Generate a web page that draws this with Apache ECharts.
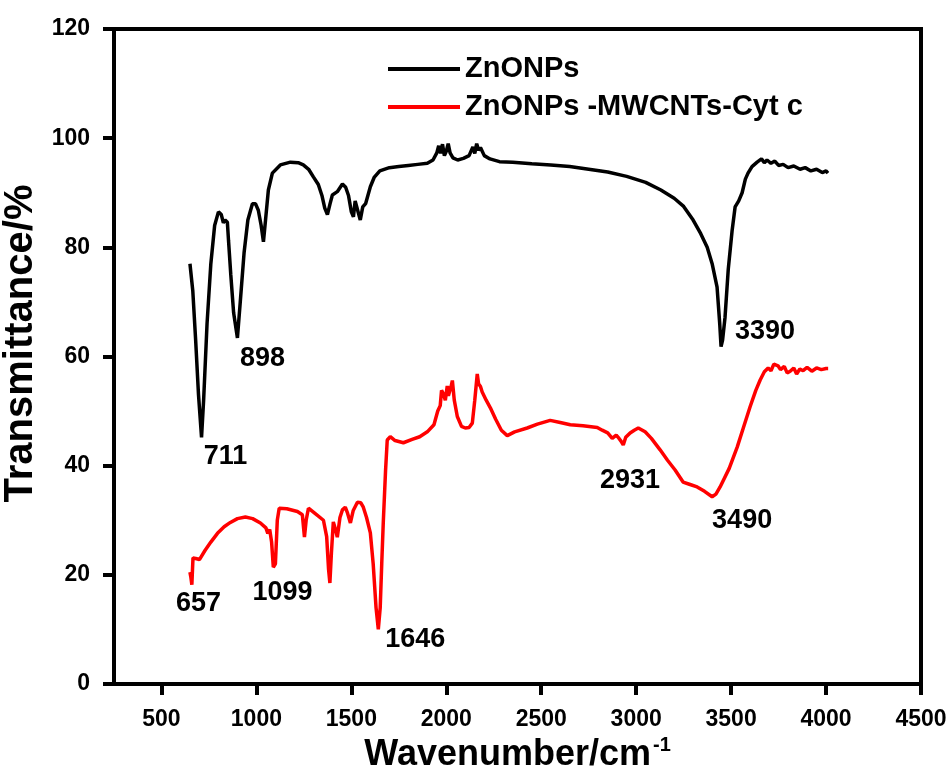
<!DOCTYPE html>
<html>
<head>
<meta charset="utf-8">
<script src="https://cdn.jsdelivr.net/npm/echarts@6/dist/echarts.min.js"></script>
<style>
  html, body { margin: 0; padding: 0; background: #fff; }
  #chart { width: 952px; height: 772px; }
</style>
</head>
<body>
<div id="chart"></div>
<script>
// ZnONPs (black) — wavenumber / transmittance
const znoX = [650, 665, 680, 695, 711, 722, 740, 760, 780, 800, 815, 826, 835, 847, 853, 865, 880, 900, 915, 935,
  955, 979, 995, 1010, 1025, 1037, 1048, 1063, 1084, 1126, 1179, 1220, 1247, 1275, 1300, 1326, 1345, 1360, 1374, 1388,
  1400, 1426, 1453, 1470, 1485, 1500, 1511, 1520, 1530, 1547, 1560, 1575, 1600, 1620, 1650, 1700, 1750, 1800, 1850, 1900,
  1930, 1950, 1960, 1970, 1980, 1990, 2000, 2010, 2020, 2035, 2060, 2090, 2120, 2140, 2150, 2160, 2170, 2180, 2200, 2230,
  2280, 2350, 2450, 2550, 2650, 2750, 2850, 2950, 3050, 3130, 3200, 3250, 3300, 3340, 3374, 3400, 3426, 3440, 3447, 3455,
  3468, 3485, 3505, 3521, 3540, 3558, 3575, 3589, 3610, 3637, 3660, 3675, 3689, 3710, 3730, 3750, 3774, 3800, 3830, 3863,
  3890, 3920, 3950, 3980, 4000, 4010];
const znoY = [77.0, 72, 63, 53, 45.2, 52, 66, 77, 84, 86.5, 86, 84.5, 85, 84.6, 81.3, 75, 68, 63.4, 70, 79,
  85, 88, 88, 86.8, 84, 81, 85, 90.5, 93.6, 95.1, 95.6, 95.5, 95.1, 94.3, 92.9, 91.5, 89.5, 87.2, 86, 88,
  89.6, 90.2, 91.6, 91, 89.5, 86.5, 85.6, 88.5, 88.2, 85, 87.4, 88, 91.1, 92.8, 94, 94.6, 94.8, 95.0, 95.2, 95.4,
  96, 97.3, 98.6, 97.2, 98.9, 96.8, 97.6, 99, 97.3, 96.4, 96, 96.3, 96.8, 98.4, 97.2, 99, 97.8, 98.3, 96.8, 96.2,
  95.7, 95.6, 95.3, 95.1, 94.8, 94.3, 93.8, 93.0, 91.9, 90.5, 89.0, 87.5, 85, 82.5, 80, 77, 72.7, 66, 61.8, 63,
  67.2, 76, 83, 87.4, 88.5, 90, 92.5, 93.6, 94.8, 95.6, 96.2, 95.5, 96, 95.4, 95.8, 95.0, 95.2, 94.6, 94.9, 94.3,
  94.6, 94.0, 94.3, 93.7, 94.0, 93.6];

// ZnONPs -MWCNTs-Cyt c (red)
const compX = [650, 655, 660, 663, 666, 680, 700, 730, 760, 795, 830, 863, 900, 942, 980, 1021, 1050, 1060, 1070, 1080,
  1089, 1100, 1110, 1120, 1160, 1216, 1242, 1253, 1262, 1274, 1310, 1353, 1370, 1380, 1387, 1395, 1405, 1415, 1426, 1440,
  1453, 1468, 1480, 1495, 1510, 1532, 1550, 1563, 1580, 1600, 1615, 1630, 1642, 1652, 1660, 1668, 1680, 1689, 1705, 1730,
  1774, 1820, 1860, 1900, 1935, 1955, 1968, 1975, 1984, 1995, 2005, 2011, 2025, 2032, 2042, 2058, 2080, 2100, 2120, 2137,
  2150, 2163, 2170, 2180, 2189, 2210, 2232, 2260, 2290, 2321, 2360, 2426, 2480, 2547, 2600, 2653, 2720, 2795, 2821, 2850,
  2874, 2895, 2905, 2920, 2932, 2945, 2968, 2990, 3011, 3047, 3080, 3126, 3165, 3205, 3247, 3280, 3321, 3360, 3400, 3420,
  3442, 3490, 3532, 3565, 3600, 3630, 3653, 3675, 3695, 3710, 3725, 3747, 3760, 3780, 3795, 3811, 3830, 3845, 3862, 3879,
  3900, 3925, 3950, 3975, 4000, 4011];
const compY = [20.5, 19.5, 18.2, 18.5, 23.1, 23, 22.8, 24.5, 26, 27.6, 28.8, 29.6, 30.3, 30.6, 30.3, 29.5, 28.6, 27.6, 28.3, 26,
  21.4, 22, 30, 32.2, 32.1, 31.6, 31, 26.9, 30, 32.2, 31.2, 30, 27, 21, 18.5, 24, 29.7, 28.5, 26.9, 30.5,
  31.9, 32.4, 31.3, 29.5, 31.8, 33.3, 33.2, 32.4, 30.5, 27.7, 22, 14, 10, 14, 22, 29.5, 39, 44.7, 45.3, 44.6,
  44.2, 44.8, 45.3, 46.2, 47.5, 50, 51, 53.8, 53.2, 52, 54.6, 52.8, 54.5, 55.6, 52, 49, 47.2, 46.9, 47, 47.8,
  52, 56.8, 55, 54.5, 53.5, 52, 50.6, 48.5, 46.5, 45.5, 46.2, 46.9, 47.6, 48.3, 47.9, 47.5, 47.3, 47, 46.5, 46,
  45, 45.6, 45.2, 44.5, 43.8, 45.2, 46, 46.5, 46.9, 46.2, 45, 42.9, 41, 39.2, 37, 36.6, 36.1, 35.3, 34.3, 34.8,
  36.1, 39.5, 43.4, 47, 50.8, 53.8, 55.7, 57.2, 57.9, 57.4, 58.6, 58.3, 57.6, 58.2, 57, 57.3, 57.9, 56.8, 57.7, 57.4,
  58, 57.3, 57.9, 57.6, 57.8, 57.8];

// peak annotations: [x, y, text] (label centre in data units)
const peakLabels = [
  [837, 41.6, '711'], [1032, 59.7, '898'], [3679, 64.5, '3390'],
  [695, 14.8, '657'], [1137, 16.7, '1099'], [1837, 8.1, '1646'],
  [2968, 37.2, '2931'], [3558, 29.9, '3490']
];

const xTicks = [500, 1000, 1500, 2000, 2500, 3000, 3500, 4000, 4500];
const seriesNames = ['ZnONPs', 'ZnONPs -MWCNTs-Cyt c'];

const pairs = (xs, ys) => xs.map((x, i) => [x, ys[i]]);
const FONT = '"Liberation Sans", Arial, sans-serif';

const myChart = echarts.init(document.getElementById('chart'));
const option = {
  animation: false,
  backgroundColor: '#fff',
  grid: {
    left: 114, right: 31, top: 29, bottom: 88,
    outerBoundsMode: 'none',
    containLabel: false,
    show: true, borderColor: '#000', borderWidth: 4
  },
  legend: {
    orient: 'vertical',
    left: 383,
    top: 45,
    itemWidth: 72,
    itemHeight: 4,
    itemGap: 0,
    textStyle: { fontFamily: FONT, fontWeight: 'bold', fontSize: 29, lineHeight: 38, color: '#000' },
    data: [
      { name: seriesNames[0], icon: 'rect' },
      { name: seriesNames[1], icon: 'rect' }
    ]
  },
  xAxis: {
    type: 'value',
    min: 250,
    max: 4500,
    name: '{a|Wavenumber/cm}{s|-1}',
    nameLocation: 'middle',
    nameGap: 33,
    nameTextStyle: {
      rich: {
        a: { fontFamily: FONT, fontWeight: 'bold', fontSize: 36, color: '#000', lineHeight: 40 },
        s: { fontFamily: FONT, fontWeight: 'bold', fontSize: 20, color: '#000', padding: [0, 0, 18, 2] }
      }
    },
    axisLine: { lineStyle: { color: '#000', width: 4 } },
    axisTick: { customValues: xTicks, length: 11, lineStyle: { color: '#000', width: 4 } },
    axisLabel: {
      customValues: xTicks,
      formatter: v => String(v),
      margin: 24,
      fontFamily: FONT, fontWeight: 'bold', fontSize: 23, color: '#000'
    },
    splitLine: { show: false }
  },
  yAxis: {
    type: 'value',
    min: 0,
    max: 120,
    interval: 20,
    name: 'Transmittance/%',
    nameLocation: 'middle',
    nameRotate: 90,
    nameGap: 66,
    nameTextStyle: {
      fontFamily: FONT, fontWeight: 'bold', fontSize: 40, color: '#000',
      padding: [0, 0, 0, 26]
    },
    axisLine: { show: true, lineStyle: { color: '#000', width: 4 } },
    axisTick: { show: true, length: 11, lineStyle: { color: '#000', width: 4 } },
    axisLabel: { margin: 24, fontFamily: FONT, fontWeight: 'bold', fontSize: 23, color: '#000' },
    splitLine: { show: false }
  },
  series: [
    {
      name: seriesNames[0],
      type: 'line',
      data: pairs(znoX, znoY),
      showSymbol: false,
      symbol: 'none',
      color: '#000',
      lineStyle: { color: '#000', width: 3.5 }
    },
    {
      name: seriesNames[1],
      type: 'line',
      data: pairs(compX, compY),
      showSymbol: false,
      symbol: 'none',
      color: '#ff0000',
      lineStyle: { color: '#ff0000', width: 3.5 }
    },
    {
      name: 'peaks',
      type: 'scatter',
      data: peakLabels,
      symbolSize: 0,
      silent: true,
      z: 5,
      itemStyle: { opacity: 1 },
      label: {
        show: true,
        position: 'inside',
        formatter: p => p.value[2],
        fontFamily: FONT, fontWeight: 'bold', fontSize: 27, color: '#000'
      }
    }
  ]
};
myChart.setOption(option);
</script>
</body>
</html>
